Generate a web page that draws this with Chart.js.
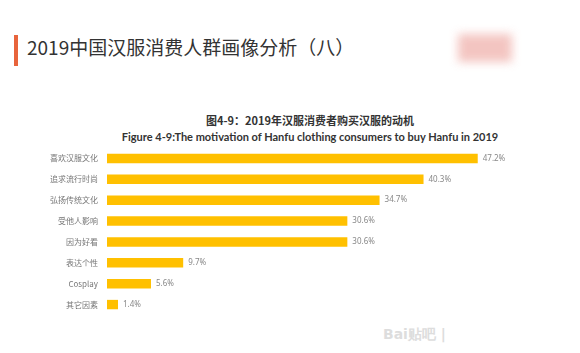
<!DOCTYPE html>
<html>
<head>
<meta charset="utf-8">
<script src="https://cdn.jsdelivr.net/npm/chart.js@4"></script>
<style>
  html, body { margin: 0; padding: 0; background: #fff; }
  #wrap { position: relative; width: 580px; height: 353px; overflow: hidden; }
  #bar { position: absolute; left: 14px; top: 35px; width: 4px; height: 31px; background: #E8643C; }
  #head { position: absolute; left: 27px; top: 33px; font: 19px "Noto Sans CJK SC", sans-serif; color: #333; white-space: nowrap; }
  #blur { position: absolute; left: 458px; top: 34px; width: 54px; height: 28px; background: #f1b7b2; filter: blur(5px); opacity: 0.8; }
  #t1 { position: absolute; left: 0; width: 620px; top: 112px; text-align: center; font: bold 11px "Noto Sans CJK SC", sans-serif; color: #333; }
  #t2 { position: absolute; left: 0; width: 620px; top: 130px; text-align: center; font: bold 11px Lato, sans-serif; color: #333; }
  #wm { position: absolute; left: 383px; top: 326px; font: bold 14px "DejaVu Sans", sans-serif; color: #ddd; }
  canvas { position: absolute; left: 0; top: 0; }
</style>
</head>
<body>
<div id="wrap">
  <div id="bar"></div>
  <div id="head">2019中国汉服消费人群画像分析（八）</div>
  <div id="blur"></div>
  <div id="t1">图4-9：2019年汉服消费者购买汉服的动机</div>
  <div id="t2">Figure 4-9:The motivation of Hanfu clothing consumers to buy Hanfu in 2019</div>
  <div id="wm">Bai贴吧 |</div>
  <canvas id="myChart" width="580" height="353"></canvas>
</div>
<script>
const labels = ['喜欢汉服文化', '追求流行时尚', '弘扬传统文化', '受他人影响', '因为好看', '表达个性', 'Cosplay', '其它因素'];
const values = [47.2, 40.3, 34.7, 30.6, 30.6, 9.7, 5.6, 1.4];

// value text after each bar
const valueLabels = {
    id: 'valueLabels',
    afterDatasetsDraw(chart) {
        const ctx = chart.ctx;
        ctx.save();
        ctx.font = '8px "Noto Sans", sans-serif';
        ctx.fillStyle = '#888';
        ctx.textBaseline = 'middle';
        chart.getDatasetMeta(0).data.forEach((bar, i) => {
            ctx.fillText(values[i].toFixed(1) + '%', bar.x + 5, bar.y);
        });
        ctx.restore();
    }
};

const config = {
    type: 'bar',
    data: {
        labels: labels,
        datasets: [{
            data: values,
            backgroundColor: '#FFC000',
            barPercentage: 0.45,
            categoryPercentage: 1
        }]
    },
    options: {
        indexAxis: 'y',
        responsive: false,
        animation: false,
        layout: { padding: { top: 148, bottom: 38, left: 0, right: 41 } },
        scales: {
            x: { display: false, min: 0, max: 55 },
            y: {
                grid: { display: false, drawTicks: false },
                border: { display: false },
                ticks: {
                    padding: 9,
                    color: '#777',
                    font: { size: 8, family: '"Noto Sans CJK SC", sans-serif' }
                },
                afterFit: (scale) => { scale.width = 107; }
            }
        },
        plugins: {
            legend: { display: false },
            tooltip: { enabled: false }
        }
    },
    plugins: [valueLabels]
};

new Chart(document.getElementById('myChart'), config);
</script>
</body>
</html>
